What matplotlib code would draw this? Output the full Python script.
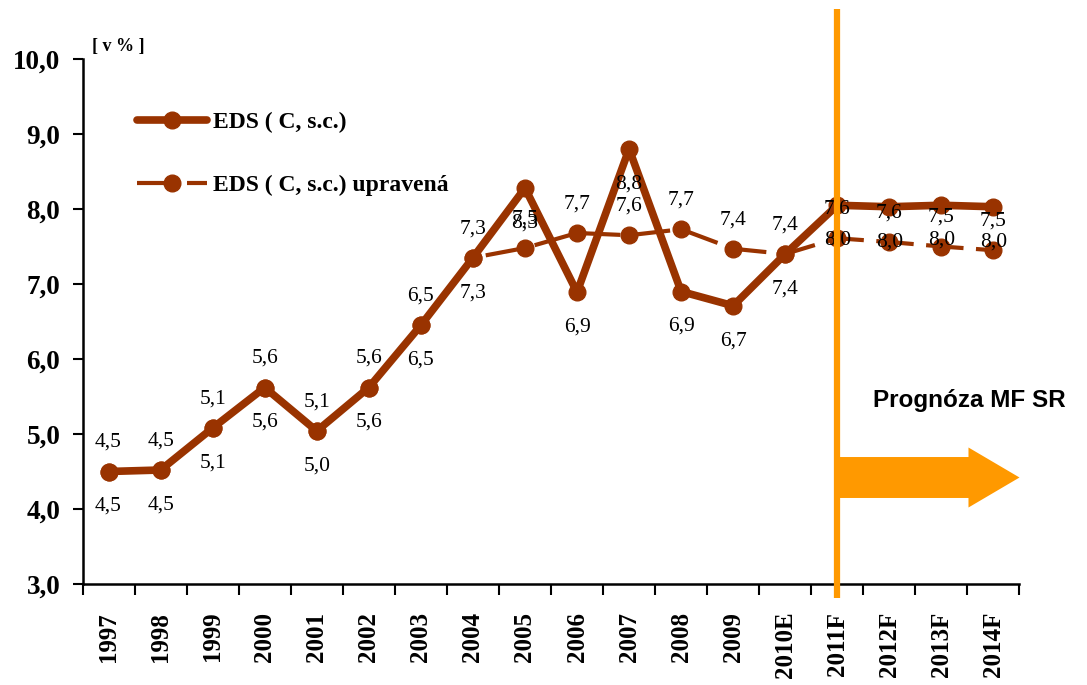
import matplotlib
matplotlib.use("Agg")
import matplotlib.pyplot as plt
import matplotlib.patches as mpatches
from matplotlib.ticker import FuncFormatter, FixedLocator
import matplotlib.transforms as mtransforms

# ---- data ----
years = ['1997', '1998', '1999', '2000', '2001', '2002', '2003', '2004', '2005',
         '2006', '2007', '2008', '2009', '2010E', '2011F', '2012F', '2013F', '2014F']
eds = [4.50, 4.52, 5.08, 5.62, 5.04, 5.62, 6.45, 7.35, 8.28, 6.89, 8.80, 6.90,
       6.71, 7.40, 8.05, 8.03, 8.05, 8.03]
eds_adj = [4.50, 4.52, 5.08, 5.62, 5.04, 5.62, 6.45, 7.35, 7.48, 7.68, 7.65, 7.73,
           7.47, 7.40, 7.61, 7.56, 7.50, 7.45]
eds_labels = [4.5, 4.5, 5.1, 5.6, 5.0, 5.6, 6.5, 7.3, 8.3, 6.9, 8.8, 6.9, 6.7, 7.4,
              8.0, 8.0, 8.0, 8.0]
eds_adj_labels = [4.5, 4.5, 5.1, 5.6, 5.1, 5.6, 6.5, 7.3, 7.5, 7.7, 7.6, 7.7, 7.4, 7.4,
                  7.6, 7.6, 7.5, 7.5]
series_names = ['EDS ( C, s.c.)', 'EDS ( C, s.c.) upravená']
forecast_start = '2011F'

BROWN = '#993300'
ORANGE = '#FF9900'
SERIF = 'Liberation Serif'

fig = plt.figure(figsize=(10.87, 6.85), dpi=100)
ax = fig.add_axes([82.5 / 1087, 101 / 685, (1019.5 - 82.5) / 1087, 525 / 685])

x = list(range(len(years)))
l2, = ax.plot(x, eds_adj, color=BROWN, lw=3, linestyle=(0, (9, 3)),
              marker='o', markersize=12, zorder=2, label=series_names[1])
l1, = ax.plot(x, eds, color=BROWN, lw=5.5, marker='o', markersize=12,
              zorder=2.5, label=series_names[0], solid_capstyle='round')

fmt = lambda v: f'{v:.1f}'.replace('.', ',')
for xi, yv, lab in zip(x, eds, eds_labels):
    ax.annotate(fmt(lab), (xi, yv), xytext=(0, -35), textcoords='offset pixels',
                ha='center', va='center', fontsize=15.5, family=SERIF, zorder=4)
for xi, yv, lab in zip(x, eds_adj, eds_adj_labels):
    ax.annotate(fmt(lab), (xi, yv), xytext=(0, 29), textcoords='offset pixels',
                ha='center', va='center', fontsize=15.5, family=SERIF, zorder=4)

ax.set_xlim(-0.5, len(years) - 0.5)
ax.set_ylim(3, 10)
ax.set_yticks([3, 4, 5, 6, 7, 8, 9, 10])
ax.yaxis.set_major_formatter(FuncFormatter(lambda v, p: fmt(v)))
ax.set_xticks(x)
ax.set_xticklabels(years, rotation=90)
ax.xaxis.set_minor_locator(FixedLocator([i - 0.5 for i in range(len(years) + 1)]))
ax.tick_params(axis='x', which='major', length=0, pad=20)
ax.tick_params(axis='x', which='minor', length=8, width=1.5, direction='out')
ax.tick_params(axis='y', length=7, width=1.5, direction='out', pad=9)
for lab in ax.get_xticklabels():
    lab.set_family(SERIF)
    lab.set_fontweight('bold')
    lab.set_fontsize(18)
for lab in ax.get_yticklabels():
    lab.set_family(SERIF)
    lab.set_fontweight('bold')
    lab.set_fontsize(19.5)
for s in ['top', 'right']:
    ax.spines[s].set_visible(False)
for s in ['left', 'bottom']:
    ax.spines[s].set_linewidth(1.8)

# forecast marker line
fx = years.index(forecast_start)
trans = mtransforms.blended_transform_factory(ax.transData, ax.transAxes)
ax.plot([fx, fx], [-0.027, 1.095], transform=trans, color=ORANGE, lw=4.5,
        clip_on=False, zorder=5, solid_capstyle='butt')

arrow = mpatches.FancyArrow(fx + 0.05, 4.42, len(years) - 0.5 - fx - 0.05, 0,
                            width=0.546, head_width=0.8, head_length=0.98,
                            length_includes_head=True, color=ORANGE, lw=0,
                            clip_on=False, zorder=3)
ax.add_patch(arrow)
ax.text(fx + 0.68, 5.45, 'Prognóza MF SR', fontsize=17.5, fontweight='bold',
        family='Liberation Sans', ha='left', va='center', clip_on=False)

fig.text(92 / 1087, 1 - 47 / 685, '[ v % ]', family=SERIF, fontweight='bold',
         fontsize=13, ha='left', va='center')

leg = ax.legend(handles=[l1, l2], loc='upper left',
                bbox_to_anchor=(137 / 1087, 1 - 112 / 685),
                bbox_transform=fig.transFigure, frameon=False,
                prop={'family': SERIF, 'weight': 'bold', 'size': 17},
                handlelength=2.95, handletextpad=0.25, labelspacing=1.75,
                borderaxespad=0, borderpad=0)

fig.savefig('out.png', dpi=100)
